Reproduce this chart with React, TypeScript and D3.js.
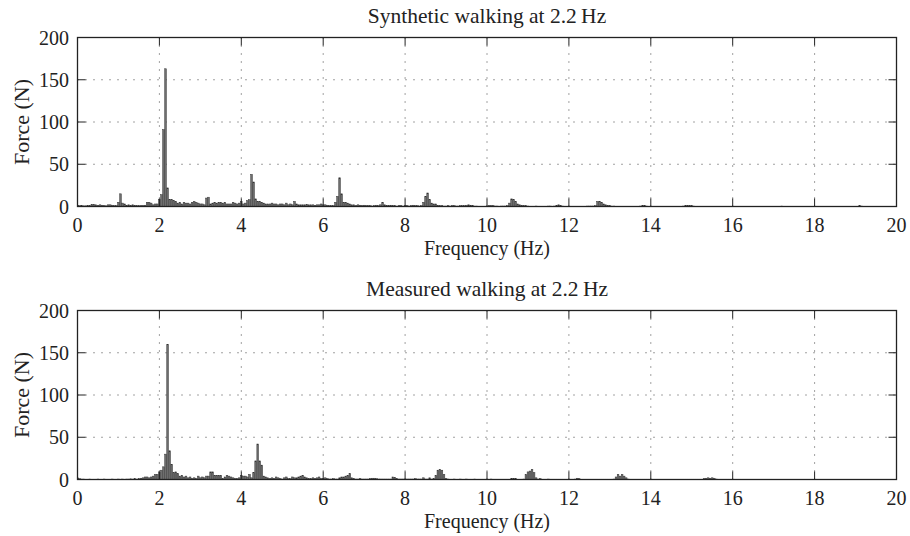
import React from "react";
import * as d3 from "d3";

// Spectrum bins: value i is at frequency i * FREQ_STEP (Hz)
const FREQ_STEP = 0.05;
const xTicks = [0, 2, 4, 6, 8, 10, 12, 14, 16, 18, 20];
const yTicks = [0, 50, 100, 150, 200];
const panelTitles = ["Synthetic walking at 2.2\u2009Hz", "Measured walking at 2.2\u2009Hz"];
const xLabel = "Frequency (Hz)";
const yLabel = "Force (N)";

// Synthetic walking force amplitude (N), 20 bins per line = 1 Hz per line
const synthetic = [
  1.5, 1, 1, 0.8, 0.8, 1, 1, 2.5, 2.5, 2, 1.5, 2, 1.5, 1, 0.8, 2, 2, 1.5, 1, 1,
  5, 15, 4, 3, 1.5, 2, 1.5, 2, 1.5, 1, 1, 1, 1, 1.5, 5, 5, 4, 2, 3, 3,
  8, 14, 91, 163, 22, 8, 8, 7, 6, 4, 5, 3, 5, 4, 4, 3, 5, 6, 5, 4,
  3, 3, 2, 10, 11, 3, 4, 5, 4, 5, 5, 4, 5, 3, 3, 3, 5, 4, 3, 4,
  6, 3, 4, 7, 8, 38, 29, 9, 6, 6, 5, 4, 3, 3, 3, 4, 3, 3, 2, 3,
  3, 2, 4, 2, 3, 2, 6, 3, 2, 2, 2, 2, 2.5, 2, 2, 2, 1.5, 2, 2, 3,
  2, 2, 1.5, 1, 1, 1, 5, 12, 34, 15, 5, 5, 4, 3, 2, 2, 1, 2, 1.5, 1,
  1.5, 1, 1, 1, 0.5, 1, 1.5, 1, 2, 5, 2, 1, 1, 1.5, 1, 1, 0.5, 1, 1, 0.5,
  1, 1, 0.5, 1, 1.5, 1, 1, 0.5, 1, 5, 12, 16, 8, 4, 3, 3, 1.5, 1, 1, 0.5,
  0.5, 1, 0.5, 1, 1, 0.5, 0.5, 1, 1, 1, 1.5, 2, 1.5, 1, 0.5, 0.5, 0.3, 0.3, 0.3, 0.3,
  0.5, 1, 1, 1, 0.5, 0.5, 0.3, 0.5, 0.5, 0.5, 1, 4, 9, 8, 6, 3, 2, 1.5, 1, 1,
  0.5, 0.3, 0.3, 0.3, 0.5, 0.3, 0.3, 0.3, 0.3, 0.3, 0.5, 0.5, 0.3, 0.5, 1, 2, 1, 0.5, 0.3, 0.3,
  0.3, 0.3, 0.3, 0.3, 0.3, 0.3, 0.3, 0.3, 0.3, 0.5, 0.5, 0.5, 0.5, 1, 6, 6, 5, 3, 2, 1.5,
  1, 0.5, 0.5, 0.3, 0.3, 0.3, 0.3, 0.3, 0.3, 0.3, 0.3, 0.3, 0.3, 0.3, 0.3, 0.5, 1, 1, 0.5, 0.3,
  0.3, 0.3, 0.3, 0.3, 0.3, 0.3, 0.3, 0.3, 0.3, 0.3, 0.3, 0.3, 0.3, 0.3, 0.3, 0.3, 0.5, 1, 1, 1,
  1, 0.5, 0.3, 0.3, 0.3, 0.3, 0.3, 0.3, 0.3, 0.3, 0.3, 0.3, 0.3, 0.3, 0.3, 0.3, 0.3, 0.3, 0.3, 0.3,
  0.2, 0.2, 0.2, 0.2, 0.2, 0.2, 0.2, 0.2, 0.2, 0.2, 0.2, 0.2, 0.2, 0.2, 0.2, 0.2, 0.2, 0.2, 0.2, 0.2,
  0.2, 0.2, 0.2, 0.2, 0.5, 0.2, 0.2, 0.2, 0.2, 0.2, 0.2, 0.2, 0.2, 0.2, 0.2, 0.2, 0.2, 0.2, 0.2, 0.2,
  0.2, 0.2, 0.2, 0.2, 0.2, 0.2, 0.2, 0.2, 0.2, 0.2, 0.2, 0.2, 0.2, 0.2, 0.2, 0.2, 0.2, 0.2, 0.2, 0.2,
  0.2, 0.2, 1, 0.5, 0.2, 0.2, 0.2, 0.2, 0.2, 0.2, 0.2, 0.2, 0.2, 0.2, 0.2, 0.2, 0.2, 0.2, 0.2, 0.2,
];

// Measured walking force amplitude (N), 20 bins per line = 1 Hz per line
const measured = [
  2, 1, 0.5, 0.5, 0.3, 0.3, 0.5, 0.3, 0.3, 0.3, 0.5, 0.3, 0.3, 0.5, 0.3, 0.3, 0.3, 0.5, 0.3, 0.3,
  0.5, 0.3, 0.5, 0.3, 0.5, 0.5, 0.8, 0.5, 1, 0.5, 1, 1.5, 2, 3, 3, 2, 3, 4, 6, 6,
  9, 11, 15, 30, 160, 34, 18, 8, 9, 7, 4, 5, 3, 4, 2, 3, 1, 2, 1, 4,
  2, 3, 2, 4, 4, 9, 9, 5, 5, 5, 5, 1, 3, 5, 4, 3, 2, 1, 1, 2,
  5, 4, 4, 3, 6, 2, 8, 22, 42, 22, 17, 4, 3, 2, 1, 2, 1, 3, 2, 1,
  0.5, 2, 3, 1, 1, 3, 2, 2, 3, 4, 5, 3, 2, 1, 1, 2, 1, 2, 3, 1,
  1, 2, 1, 0.5, 0.5, 1, 0.5, 0.5, 2, 3, 3, 4, 5, 7, 2, 1, 0.5, 0.5, 1, 0.5,
  0.5, 0.5, 0.5, 1, 1.5, 1.5, 1, 0.5, 0.5, 0.5, 0.5, 0.5, 0.5, 0.5, 3, 2.5, 1, 0.5, 0.5, 0.5,
  0.5, 0.5, 0.5, 0.5, 0.5, 1, 0.5, 0.5, 0.5, 2, 0.5, 0.5, 2, 0.5, 1, 5, 11, 12, 11, 6,
  1, 0.5, 0.3, 0.3, 0.5, 0.3, 0.3, 0.5, 0.3, 0.3, 0.5, 0.3, 0.3, 0.3, 0.5, 0.3, 0.3, 0.3, 0.3, 0.3,
  0.3, 0.3, 0.5, 0.3, 0.3, 0.3, 0.3, 0.3, 0.3, 0.3, 0.3, 0.3, 1, 1, 1, 0.3, 0.3, 0.3, 0.5, 6,
  9, 10, 12, 8, 2, 0.5, 1, 0.3, 0.3, 0.3, 0.5, 0.3, 0.3, 0.3, 0.3, 0.3, 0.3, 0.3, 0.3, 0.3,
  0.3, 0.3, 0.3, 0.5, 1.5, 1, 0.3, 0.3, 0.3, 0.3, 0.3, 0.3, 0.3, 0.3, 0.3, 0.3, 0.3, 0.3, 0.3, 0.3,
  0.3, 0.3, 0.5, 3, 6, 4, 6, 4, 2, 0.5, 0.3, 0.3, 0.3, 0.3, 0.3, 0.3, 0.3, 0.3, 0.3, 0.3,
  0.3, 0.3, 0.3, 0.3, 0.3, 0.3, 0.3, 0.3, 0.3, 0.3, 0.3, 0.3, 0.3, 0.3, 0.3, 0.3, 0.3, 0.3, 0.3, 0.3,
  0.3, 0.3, 0.3, 0.3, 0.3, 0.3, 1, 1.5, 2, 1.5, 2, 1.5, 0.5, 0.3, 0.3, 0.3, 0.3, 0.3, 0.3, 0.3,
  0.3, 0.3, 0.3, 0.3, 0.3, 0.3, 0.3, 0.3, 0.3, 0.3, 0.3, 0.3, 0.3, 0.3, 0.3, 0.3, 0.3, 0.3, 0.3, 0.3,
  0.2, 0.2, 0.2, 0.2, 0.2, 0.2, 0.2, 0.2, 0.2, 0.2, 0.2, 0.2, 0.2, 0.2, 0.2, 0.2, 0.2, 0.2, 0.2, 0.2,
  0.2, 0.2, 0.2, 0.2, 0.2, 0.2, 0.2, 0.2, 0.2, 0.2, 0.2, 0.2, 0.2, 0.2, 0.2, 0.2, 0.2, 0.2, 0.2, 0.2,
  0.2, 0.2, 0.2, 0.2, 0.2, 0.2, 0.2, 0.2, 0.2, 0.2, 0.2, 0.2, 0.2, 0.2, 0.2, 0.2, 0.2, 0.2, 0.2, 0.2,
];

const W = 910;
const H = 536;
const FONT = "'Liberation Serif', 'Times New Roman', serif";
const LEFT = 77.5;
const RIGHT = 896.5;
const PANELS = [
  { top: 37.5, bottom: 206.5, title: panelTitles[0], values: synthetic },
  { top: 310.5, bottom: 479.5, title: panelTitles[1], values: measured },
];
const TICK = 8;

function Panel({ top, bottom, title, values }: { top: number; bottom: number; title: string; values: number[] }) {
  const x = d3.scaleLinear().domain([0, 20]).range([LEFT, RIGHT]);
  const y = d3.scaleLinear().domain([0, 200]).range([bottom, top]);
  const bw = (x(FREQ_STEP) - x(0)) * 0.8;
  const clipId = `clip-${Math.round(top)}`;
  const cx = (LEFT + RIGHT) / 2;
  return (
    <g>
      <defs>
        <clipPath id={clipId}>
          <rect x={LEFT} y={top} width={RIGHT - LEFT} height={bottom - top} />
        </clipPath>
      </defs>
      {/* grid */}
      {xTicks.slice(1, -1).map((t) => (
        <line key={"gx" + t} x1={x(t)} x2={x(t)} y1={top} y2={bottom} stroke="#444" strokeWidth={1} strokeDasharray="1 7" />
      ))}
      {yTicks.slice(1, -1).map((t) => (
        <line key={"gy" + t} x1={LEFT} x2={RIGHT} y1={y(t)} y2={y(t)} stroke="#444" strokeWidth={1} strokeDasharray="1 7" />
      ))}
      {/* bars */}
      <g clipPath={`url(#${clipId})`}>
        {values.map((v, i) => {
          const f = i * FREQ_STEP;
          return (
            <rect
              key={i}
              x={x(f) - bw / 2}
              y={y(v)}
              width={bw}
              height={Math.max(0, y(0) - y(v))}
              fill="#6e6e6e"
              stroke="#333"
              strokeWidth={0.5}
            />
          );
        })}
      </g>
      {/* ticks */}
      {xTicks.map((t) => (
        <g key={"tx" + t}>
          <line x1={x(t)} x2={x(t)} y1={bottom} y2={bottom - TICK} stroke="#222" strokeWidth={1} />
          <line x1={x(t)} x2={x(t)} y1={top} y2={top + TICK} stroke="#222" strokeWidth={1} />
          <text x={x(t)} y={bottom + 25} textAnchor="middle" fontFamily={FONT} fontSize={20} fill="#222">
            {t}
          </text>
        </g>
      ))}
      {yTicks.map((t) => (
        <g key={"ty" + t}>
          <line x1={LEFT} x2={LEFT + TICK} y1={y(t)} y2={y(t)} stroke="#222" strokeWidth={1} />
          <line x1={RIGHT} x2={RIGHT - TICK} y1={y(t)} y2={y(t)} stroke="#222" strokeWidth={1} />
          <text x={69} y={y(t)} dy="0.35em" textAnchor="end" fontFamily={FONT} fontSize={20} fill="#222">
            {t}
          </text>
        </g>
      ))}
      {/* box */}
      <rect x={LEFT} y={top} width={RIGHT - LEFT} height={bottom - top} fill="none" stroke="#222" strokeWidth={1.3} />
      {/* labels */}
      <text x={cx} y={top - 14.5} textAnchor="middle" fontFamily={FONT} fontSize={21.5} fill="#222">
        {title}
      </text>
      <text x={cx} y={bottom + 48} textAnchor="middle" fontFamily={FONT} fontSize={20} fill="#222">
        {xLabel}
      </text>
      <text
        transform={`translate(29, ${(top + bottom) / 2}) rotate(-90)`}
        textAnchor="middle"
        fontFamily={FONT}
        fontSize={22}
        fill="#222"
      >
        {yLabel}
      </text>
    </g>
  );
}

export default function App() {
  return (
    <div style={{ position: "absolute", left: 0, top: 0 }}>
      <svg width={W} height={H} viewBox={`0 0 ${W} ${H}`} style={{ display: "block", background: "#fff" }}>
        {PANELS.map((p) => (
          <Panel key={p.title} {...p} />
        ))}
      </svg>
    </div>
  );
}
